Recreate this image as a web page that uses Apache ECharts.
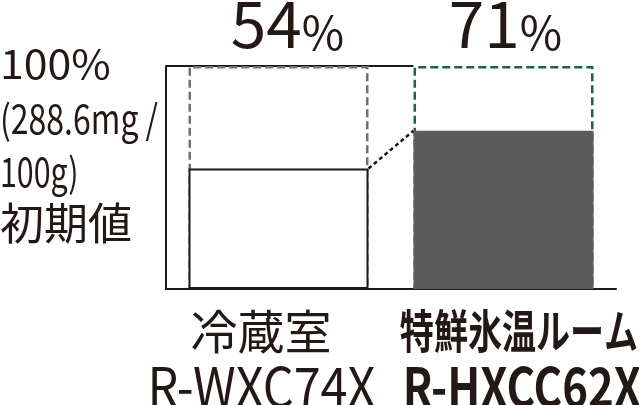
<!DOCTYPE html>
<html>
<head>
<meta charset="utf-8">
<script src="https://cdn.jsdelivr.net/npm/echarts@6/dist/echarts.min.js"></script>
<style>
    html, body { margin: 0; padding: 0; background: #fff; }
    #chart { width: 639px; height: 405px; }
</style>
</head>
<body>
<div id="chart"></div>
<script>
// data
const categories = ['冷蔵室', '特鮮氷温ルーム']
const models = ['R-WXC74X', 'R-HXCC62X']
const initialValues = [100, 100]
const remainValues = [54, 71]
const yNameLines = ['100%', '(288.6mg /', '100g)', '初期値']

const FONT = '"Noto Sans CJK JP", "Noto Sans", sans-serif'
const INK = '#231815'
const barFrac = 0.8
const edge = (1 - barFrac) / 2

let chart = echarts.init(document.querySelector('#chart'))

// small helper for the fixed text blocks
function label(text, x, y, font, opts) {
    return Object.assign({
        type: 'text', x: x, y: y,
        style: { text: text, font: font + ' ' + FONT, fill: INK, align: (opts && opts.align) || 'left', verticalAlign: 'middle' }
    }, opts && opts.scaleX ? { scaleX: opts.scaleX } : {})
}

let option = {
    backgroundColor: '#fff',
    animation: false,
    grid: { left: 166, right: 23, top: 66, bottom: 116 },
    xAxis: [{
        type: 'category',
        data: categories,
        axisLine: { lineStyle: { color: '#1a1a1a', width: 2 } },
        axisTick: { show: false },
        axisLabel: { show: false }
    }, {
        type: 'value',
        min: 0,
        max: categories.length,
        show: false
    }],
    yAxis: {
        type: 'value',
        min: 0,
        max: 100,
        axisLine: { show: true, lineStyle: { color: '#1a1a1a', width: 2 } },
        axisTick: { show: false },
        axisLabel: { show: false },
        splitLine: { show: false }
    },
    series: [
        {
            // top frame line at 100%, up to the left edge of the second bar
            type: 'line',
            xAxisIndex: 1,
            data: [[0, 100], [1 + edge, 100]],
            symbol: 'none',
            lineStyle: { color: '#1a1a1a', width: 2 },
            z: 1
        },
        {
            name: 'initial',
            type: 'bar',
            barWidth: (barFrac * 100) + '%',
            data: initialValues.map((v, i) => ({
                value: v,
                itemStyle: {
                    color: '#fff',
                    borderColor: i === 0 ? '#707070' : '#17664a',
                    borderWidth: 2.5,
                    borderType: [8, 4]
                },
                label: { offset: [i === 0 ? 9 : 2, 0] }
            })),
            label: {
                show: true,
                position: 'top',
                distance: 10,
                formatter: (p) => '{n|' + remainValues[p.dataIndex] + '}{p|%}',
                rich: {
                    n: { fontFamily: FONT, fontSize: 64, lineHeight: 64, color: INK, verticalAlign: 'bottom' },
                    p: { fontFamily: FONT, fontSize: 46, lineHeight: 46, color: INK, verticalAlign: 'bottom' }
                }
            },
            z: 2
        },
        {
            name: 'remain',
            type: 'bar',
            barGap: '-100%',
            barWidth: (barFrac * 100) + '%',
            data: remainValues.map((v, i) => ({
                value: v,
                itemStyle: i === 0
                    ? { color: '#fff', borderColor: '#1a1a1a', borderWidth: 2 }
                    : { color: '#5c5c5c', borderWidth: 0 }
            })),
            z: 3
        },
        {
            // dotted connector between the bar tops
            type: 'line',
            xAxisIndex: 1,
            data: [[1 - edge, remainValues[0]], [1 + edge, remainValues[1]]],
            symbol: 'none',
            lineStyle: { color: '#1a1a1a', width: 2.5, type: [4, 3] },
            z: 4
        }
    ],
    graphic: [
        label(yNameLines[0], 0, 64, '40px', { scaleX: 1.07 }),
        label(yNameLines[1], 0, 119, '40px', { scaleX: 0.8 }),
        label(yNameLines[2], 0, 172, '40px', { scaleX: 0.76 }),
        label(yNameLines[3], 0, 223, '44px'),

        label(categories[0], 261, 331, '47px', { align: 'center' }),
        label(categories[1], 519, 331, 'bold 46px', { align: 'center', scaleX: 0.74 }),
        label(models[0], 261.5, 386, '54px', { align: 'center', scaleX: 0.9 }),
        label(models[1], 522, 386, 'bold 54px', { align: 'center', scaleX: 0.81 })
    ]
}

chart.setOption(option)
</script>
</body>
</html>
